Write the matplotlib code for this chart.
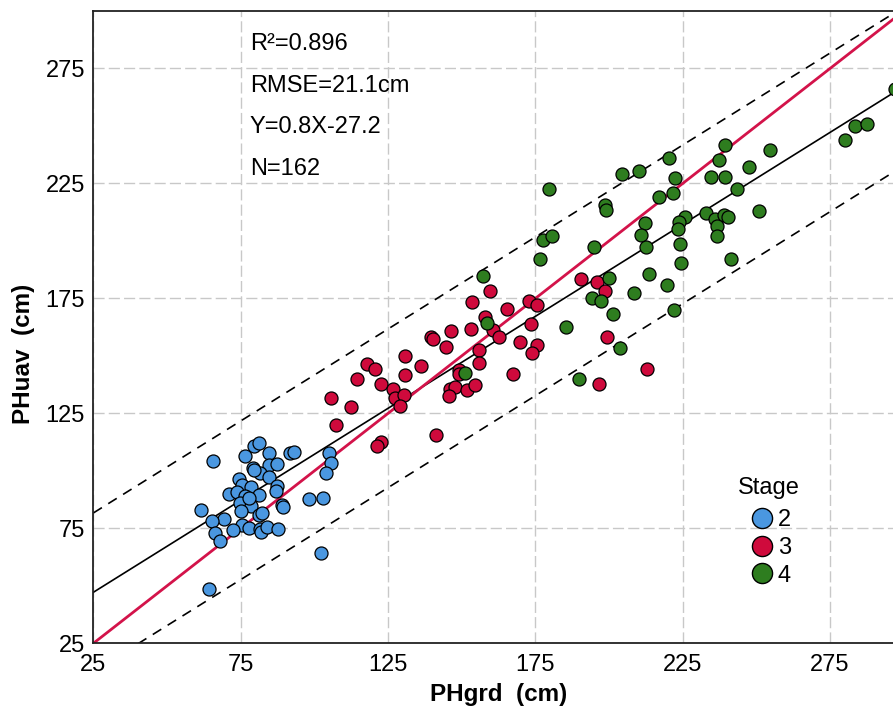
import matplotlib
matplotlib.use("Agg")
import matplotlib.pyplot as plt
from matplotlib.lines import Line2D
import numpy as np

plt.rcParams['font.family'] = ['Liberation Sans', 'DejaVu Sans']

# Stage 2 samples (ground-measured height vs UAV-derived height, cm)
stage2_grd = [65.5, 79.5, 81.3, 76.6, 84.7, 91.7, 93.2, 105.1, 105.5, 103.9,
              79.1, 84.5, 87.4, 81.5, 84.7, 74.5, 75.4, 78.4, 71.1, 73.6,
              76.6, 81.3, 87.2, 87.0, 74.8, 78.6, 75.0, 89.0, 89.5, 98.1,
              103.0, 61.6, 69.3, 65.3, 81.3, 82.2, 75.4, 72.3, 77.7, 81.5,
              82.0, 84.0, 87.7, 66.2, 68.0, 102.4, 64.3, 77.9, 79.4]
stage2_uav = [104.1, 110.8, 112.0, 106.4, 107.9, 107.9, 108.2, 107.6, 103.5, 98.9,
              101.2, 102.7, 103.0, 99.2, 97.2, 96.6, 93.7, 93.1, 89.9, 90.8,
              89.0, 89.6, 93.4, 91.3, 85.9, 84.7, 82.4, 85.0, 84.1, 87.9,
              88.2, 83.0, 78.9, 78.3, 80.7, 81.8, 76.6, 74.3, 75.1, 74.8,
              73.4, 75.7, 74.6, 73.1, 69.6, 64.4, 48.7, 88.2, 100.4]

# Stage 3 samples
stage3_grd = [159.6, 153.5, 165.5, 172.7, 175.5, 158.0, 160.5, 162.8, 153.3, 146.3,
              139.5, 140.2, 173.6, 169.8, 175.5, 173.9, 144.7, 155.8, 155.8, 130.9,
              136.3, 117.8, 120.5, 130.7, 114.6, 122.7, 149.0, 149.2, 167.3, 126.8,
              127.5, 130.4, 129.1, 105.5, 112.5, 146.0, 147.6, 145.8, 151.7, 154.6,
              107.3, 141.3, 122.5, 121.4, 190.6, 196.0, 198.7, 199.4, 213.0, 196.5]
stage3_uav = [178.3, 173.4, 170.2, 173.7, 172.0, 167.0, 161.2, 158.3, 161.8, 160.9,
              158.3, 157.4, 164.0, 156.0, 154.6, 151.3, 153.7, 152.5, 147.0, 149.9,
              145.6, 146.4, 144.4, 141.8, 139.8, 137.7, 143.8, 142.1, 142.1, 135.4,
              131.7, 132.8, 128.2, 131.7, 127.9, 135.7, 136.6, 132.5, 135.1, 137.2,
              119.8, 115.4, 112.5, 110.8, 183.5, 182.1, 178.3, 158.0, 144.4, 137.7]

# Stage 4 samples
stage4_grd = [157.1, 158.7, 151.0, 204.4, 210.1, 220.2, 237.4, 222.5, 234.5, 239.5,
              179.7, 217.1, 221.8, 243.3, 198.7, 199.0, 233.0, 235.9, 239.0, 240.4,
              236.7, 236.7, 225.7, 223.6, 223.4, 212.1, 211.0, 212.5, 224.1, 224.3,
              241.3, 177.7, 180.6, 176.6, 194.9, 213.7, 219.6, 200.1, 194.2, 197.4,
              208.5, 222.0, 201.4, 185.4, 203.8, 189.7, 297.1, 283.6, 287.4, 280.2,
              239.3, 254.6, 247.4, 250.9]
stage4_uav = [184.7, 164.1, 142.7, 229.3, 230.2, 236.0, 235.4, 227.3, 227.6, 227.9,
              222.4, 218.9, 220.7, 222.4, 215.7, 213.4, 212.2, 209.6, 211.3, 210.5,
              206.7, 202.1, 210.2, 208.2, 205.0, 207.6, 202.4, 197.2, 198.6, 190.2,
              192.0, 200.2, 202.3, 192.2, 197.2, 185.6, 180.7, 183.9, 175.1, 173.7,
              177.4, 169.9, 168.2, 162.7, 153.4, 140.0, 266.1, 250.2, 250.8, 243.8,
              241.8, 239.5, 232.2, 213.1]

stages = ['2', '3', '4']
stage_colors = ['#4a97e0', '#cf0a3c', '#2e7d1f']

# Regression summary
r2 = 0.896
rmse = 21.1
slope = 0.8
intercept = 27.2
n_samples = 162
band = 34.5  # prediction band half-width (cm)

ticks = [25, 75, 125, 175, 225, 275]
xlim = (25, 300)
ylim = (25, 300)

FS = 17

fig = plt.figure(figsize=(8.93, 7.11), dpi=100)
ax = fig.add_axes([93.4 / 893, 67.7 / 711, 810.3 / 893, 632.3 / 711])

ax.set_xlim(*xlim)
ax.set_ylim(*ylim)
ax.set_xticks(ticks)
ax.set_yticks(ticks)
ax.grid(True, color='#c8c8c8', linestyle=(0, (8, 3)), linewidth=1.0)
ax.set_axisbelow(True)
ax.tick_params(length=0, labelsize=FS, colors='black')
ax.tick_params(axis='x', pad=8)
ax.tick_params(axis='y', pad=6)

for side in ['left', 'bottom', 'top']:
    ax.spines[side].set_color('#222222')
    ax.spines[side].set_linewidth(1.3)
ax.spines['right'].set_visible(False)

xs = np.array(xlim, dtype=float)
fit = slope * xs + intercept
ax.plot(xs, fit, color='black', linewidth=1.2, zorder=2)
ax.plot(xs, fit + band, color='black', linewidth=1.2, linestyle=(0, (6, 4.5)), zorder=2)
ax.plot(xs, fit - band, color='black', linewidth=1.2, linestyle=(0, (6, 4.5)), zorder=2)
ax.plot(xs, xs, color='#d3134a', linewidth=2.0, zorder=2)

groups = [(stage2_grd, stage2_uav), (stage3_grd, stage3_uav), (stage4_grd, stage4_uav)]
for (gx, gy), col in zip(groups, stage_colors):
    ax.scatter(gx, gy, s=88, c=col, edgecolors='black', linewidths=0.9, zorder=3,
               clip_on=False)

texts = [f'R\u00b2={r2}', f'RMSE={rmse}cm', f'Y={slope}X-{intercept}', f'N={n_samples}']
for i, t in enumerate(texts):
    fig.text(250 / 893, 1 - (44 + 41.7 * i) / 711, t, fontsize=FS, ha='left',
             va='center')

ax.set_xlabel('PHgrd  (cm)', fontsize=17.5, fontweight='bold', labelpad=5)
ax.set_ylabel('PHuav  (cm)', fontsize=17.5, fontweight='bold')
ax.yaxis.set_label_coords(-0.072, (643.3 - 354) / 632.3)

handles = [Line2D([0], [0], marker='o', linestyle='none', markersize=14.5,
                  markerfacecolor=c, markeredgecolor='black', markeredgewidth=1.0)
           for c in stage_colors]
leg = ax.legend(handles, stages, title='Stage', frameon=False, fontsize=FS,
                title_fontsize=FS, loc='center',
                bbox_to_anchor=((769 - 93.4) / 810.3, (643.3 - 532) / 632.3),
                handletextpad=0.0, labelspacing=0.24, handlelength=1.3,
                borderpad=0.2)
leg._legend_box.sep = 7

fig.savefig('out.png', dpi=100)
